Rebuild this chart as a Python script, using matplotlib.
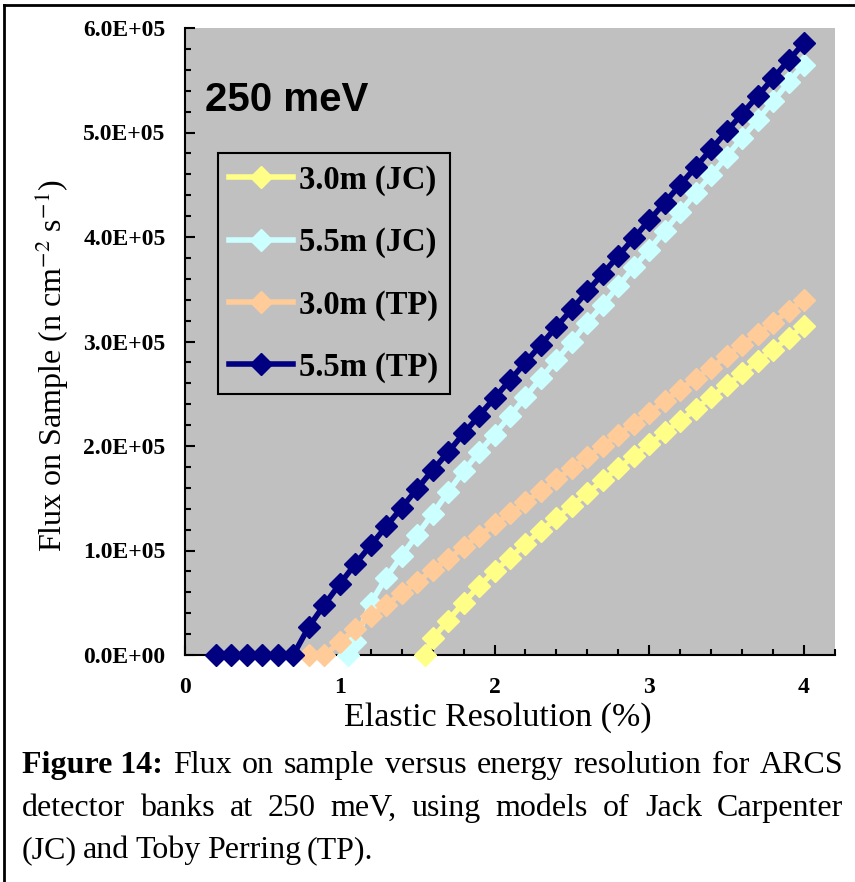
import numpy as np
import matplotlib
matplotlib.use("Agg")
import matplotlib.pyplot as plt
from matplotlib.lines import Line2D
from matplotlib.ticker import MultipleLocator

plt.rcParams['font.family'] = ['Liberation Serif', 'DejaVu Serif']
plt.rcParams['mathtext.fontset'] = 'stix'

# data (x = elastic resolution %, y = flux n/cm2/s)
x_jc30 = [1.55, 1.6, 1.7, 1.8, 1.9, 2.0, 2.1, 2.2, 2.3, 2.4, 2.5, 2.6, 2.7, 2.8,
          2.9, 3.0, 3.1, 3.2, 3.3, 3.4, 3.5, 3.6, 3.7, 3.8, 3.9, 4.0]
y_jc30 = [0, 16000, 33000, 50000, 66000, 80000, 93000, 106000, 119000, 131000,
          143000, 155000, 167000, 179000, 190000, 201500, 213000, 224000,
          235500, 247000, 258000, 269500, 281000, 292000, 303500, 315000]

x_jc55 = [1.05, 1.1, 1.2, 1.3, 1.4, 1.5, 1.6, 1.7, 1.8, 1.9, 2.0, 2.1, 2.2, 2.3,
          2.4, 2.5, 2.6, 2.7, 2.8, 2.9, 3.0, 3.1, 3.2, 3.3, 3.4, 3.5, 3.6, 3.7,
          3.8, 3.9, 4.0]
y_jc55 = [0, 12000, 50000, 74000, 95000, 115000, 135000, 156000, 176000,
          194000, 211000, 229000, 247000, 265000, 282000, 300000, 318000,
          335000, 353000, 371000, 388000, 406000, 424000, 442000, 459000,
          477000, 495000, 512000, 530000, 548000, 565000]

x_tp30 = [0.8, 0.9, 1.0, 1.1, 1.2, 1.3, 1.4, 1.5, 1.6, 1.7, 1.8, 1.9, 2.0, 2.1,
          2.2, 2.3, 2.4, 2.5, 2.6, 2.7, 2.8, 2.9, 3.0, 3.1, 3.2, 3.3, 3.4, 3.5,
          3.6, 3.7, 3.8, 3.9, 4.0]
y_tp30 = [0, 0, 12000, 25000, 37000, 48000, 59000, 70000, 81000, 92000,
          103000, 114000, 125000, 135500, 146000, 157000, 168000, 178500,
          189000, 200000, 211000, 221500, 232000, 243000, 254000, 264500,
          275000, 286000, 297000, 307500, 318000, 329000, 340000]

x_tp55 = [0.2, 0.3, 0.4, 0.5, 0.6, 0.7, 0.8, 0.9, 1.0, 1.1, 1.2, 1.3, 1.4, 1.5,
          1.6, 1.7, 1.8, 1.9, 2.0, 2.1, 2.2, 2.3, 2.4, 2.5, 2.6, 2.7, 2.8, 2.9,
          3.0, 3.1, 3.2, 3.3, 3.4, 3.5, 3.6, 3.7, 3.8, 3.9, 4.0]
y_tp55 = [0, 0, 0, 0, 0, 0, 27000, 48000, 68000, 87000, 105000, 123000,
          141000, 159000, 177000, 194000, 212000, 229000, 246000, 263000,
          280000, 297000, 314000, 331000, 348000, 365000, 382000, 399000,
          416000, 433000, 450000, 467000, 484000, 501000, 518000, 535000,
          552000, 569000, 586000]

series = [
    (x_jc30, y_jc30, '#ffff88', '3.0m (JC)'),
    (x_jc55, y_jc55, '#ccffff', '5.5m (JC)'),
    (x_tp30, y_tp30, '#ffcc99', '3.0m (TP)'),
    (x_tp55, y_tp55, '#000080', '5.5m (TP)'),
]

x_ticks = [0, 1, 2, 3, 4]
y_ticks = [0, 1e5, 2e5, 3e5, 4e5, 5e5, 6e5]
y_ticklabels = ['0.0E+00', '1.0E+05', '2.0E+05', '3.0E+05', '4.0E+05',
                '5.0E+05', '6.0E+05']

W, H = 855, 882
fig = plt.figure(figsize=(W / 100, H / 100), dpi=100)
ax = fig.add_axes([185 / W, 1 - 655 / H, 650 / W, 627 / H])
ax.set_facecolor('#c0c0c0')

for xs, ys, col, lab in series:
    ax.plot(xs, ys, color=col, lw=4, marker='D', ms=11, mec=col, mfc=col,
            label=lab, clip_on=False, zorder=3)

ax.set_xlim(0, 4.2)
ax.set_ylim(0, 6.0e5)
ax.set_xticks(x_ticks, [str(v) for v in x_ticks])
ax.set_yticks(y_ticks, y_ticklabels)
ax.xaxis.set_minor_locator(MultipleLocator(0.2))
ax.yaxis.set_minor_locator(MultipleLocator(2e4))
ax.tick_params(which='both', direction='in', width=1.5, colors='black')
ax.tick_params(which='major', length=7, labelsize=17)
ax.tick_params(which='minor', length=4)
ax.tick_params(axis='y', which='major', pad=14)
ax.tick_params(axis='x', which='major', pad=16)
for lbl in ax.get_xticklabels() + ax.get_yticklabels():
    lbl.set_fontweight('bold')
for s in ['top', 'right']:
    ax.spines[s].set_visible(False)
for s in ['left', 'bottom']:
    ax.spines[s].set_linewidth(1.5)

ax.text(0.03, 0.885, '250 meV', transform=ax.transAxes, fontsize=29,
        fontweight='bold', family='Liberation Sans', va='center', ha='left')

leg = ax.legend(loc='upper left', bbox_to_anchor=(0.05, 0.80), borderaxespad=0,
                fancybox=False, framealpha=1, facecolor='#c0c0c0',
                edgecolor='black', handlelength=1.95, labelspacing=0.95,
                handletextpad=0.2, borderpad=0.35,
                prop={'family': 'Liberation Serif', 'weight': 'bold', 'size': 23.5})
leg.get_frame().set_linewidth(1.5)

fig.text(498 / W, 1 - 718 / H, 'Elastic Resolution (%)', fontsize=24.5,
         ha='center', va='center')
fig.text(52 / W, 1 - 366 / H, r'Flux on Sample (n cm$^{-2}$ s$^{-1}$)',
         fontsize=23, rotation=90, ha='center', va='center')

# caption, justified like the original
fig.canvas.draw()
renderer = fig.canvas.get_renderer()
x0, x1 = 22, 843
lines = [
    ([('Figure 14:', 'bold'), ('Flux', 'normal'), ('on', 'normal'),
      ('sample', 'normal'), ('versus', 'normal'), ('energy', 'normal'),
      ('resolution', 'normal'), ('for', 'normal'), ('ARCS', 'normal')], 773, True),
    ([(w, 'normal') for w in 'detector banks at 250 meV, using models of Jack Carpenter'.split()], 816, True),
    ([(w, 'normal') for w in '(JC) and Toby Perring (TP).'.split()], 858, False),
]
for toks, yb, just in lines:
    texts = [fig.text(0, 1 - yb / H, w, fontsize=23, fontweight=wt, va='baseline')
             for w, wt in toks]
    widths = [t.get_window_extent(renderer).width for t in texts]
    if just:
        gap = (x1 - x0 - sum(widths)) / (len(texts) - 1)
    else:
        gap = 6
    xp = x0
    for t, wd in zip(texts, widths):
        t.set_x(xp / W)
        xp += wd + gap

# outer frame
fig.add_artist(Line2D([4 / W, 4 / W], [0, 1 - 5 / H], transform=fig.transFigure,
                      color='black', lw=2))
fig.add_artist(Line2D([4 / W, 1], [1 - 5 / H, 1 - 5 / H], transform=fig.transFigure,
                      color='black', lw=2))

fig.savefig('out.png', dpi=100)
